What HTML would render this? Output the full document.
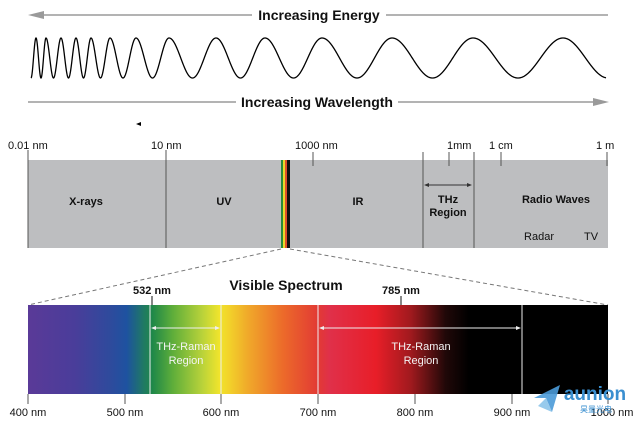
<!DOCTYPE html>
<html><head><meta charset="utf-8"><style>
html,body{margin:0;padding:0;background:#fff}
svg{display:block}
text{font-family:"Liberation Sans",Arial,sans-serif}
</style></head><body>
<svg width="640" height="424" viewBox="0 0 640 424" xmlns="http://www.w3.org/2000/svg">
<defs>
<linearGradient id="vis" x1="28" x2="608" gradientUnits="userSpaceOnUse">
<stop offset="0" stop-color="#5a3a98"/>
<stop offset="0.08" stop-color="#4a3d9a"/>
<stop offset="0.14" stop-color="#2f4a9c"/>
<stop offset="0.17" stop-color="#1e52a0"/>
<stop offset="0.2" stop-color="#1f7a62"/>
<stop offset="0.215" stop-color="#1f8848"/>
<stop offset="0.25" stop-color="#5fae3a"/>
<stop offset="0.3" stop-color="#b8d23a"/>
<stop offset="0.33" stop-color="#f0e42c"/>
<stop offset="0.345" stop-color="#f2d42a"/>
<stop offset="0.38" stop-color="#f0a82a"/>
<stop offset="0.44" stop-color="#ec6a2a"/>
<stop offset="0.5" stop-color="#e23a34"/>
<stop offset="0.52" stop-color="#e0304a"/>
<stop offset="0.6" stop-color="#e81e28"/>
<stop offset="0.66" stop-color="#a01a1e"/>
<stop offset="0.72" stop-color="#200808"/>
<stop offset="0.76" stop-color="#000"/>
<stop offset="1" stop-color="#000"/>
</linearGradient>
</defs>
<!-- top arrows -->
<g stroke="#9a9a9a" stroke-width="1.5" fill="#9a9a9a">
<line x1="36" y1="15" x2="252" y2="15"/><line x1="386" y1="15" x2="608" y2="15"/>
<polygon points="28,15 44,11 44,19" stroke="none"/>
<line x1="28" y1="102" x2="236" y2="102"/><line x1="398" y1="102" x2="600" y2="102"/>
<polygon points="609,102 593,98 593,106" stroke="none"/>
</g>
<text x="319" y="20" font-size="14" font-weight="bold" text-anchor="middle" fill="#111">Increasing Energy</text>
<text x="317" y="107" font-size="14" font-weight="bold" text-anchor="middle" fill="#111">Increasing Wavelength</text>
<path id="wave" fill="none" stroke="#000" stroke-width="1.3" d=""/>
<polygon points="136,124 141,122 141,126" fill="#000"/>
<!-- top bar -->
<rect x="28" y="160" width="580" height="88" fill="#bdbec0"/>
<g stroke="#555" stroke-width="1">
<line x1="28" y1="150" x2="28" y2="248"/>
<line x1="166" y1="150" x2="166" y2="248"/>
<line x1="313" y1="152" x2="313" y2="166"/>
<line x1="423" y1="152" x2="423" y2="248"/>
<line x1="449" y1="152" x2="449" y2="166"/>
<line x1="474" y1="152" x2="474" y2="248"/>
<line x1="501" y1="152" x2="501" y2="166"/>
<line x1="607" y1="152" x2="607" y2="166"/>
</g>
<rect x="281" y="160" width="2" height="88" fill="#2a8a3a"/>
<rect x="283" y="160" width="2" height="88" fill="#e8d82a"/>
<rect x="285" y="160" width="2" height="88" fill="#e0502a"/>
<rect x="287" y="160" width="3" height="88" fill="#111"/>
<g stroke="#333" stroke-width="1" fill="#333">
<line x1="426" y1="185" x2="470" y2="185"/>
<polygon points="424,185 429,183 429,187" stroke="none"/>
<polygon points="472,185 467,183 467,187" stroke="none"/>
</g>
<g font-size="11" fill="#111">
<text x="8" y="149">0.01 nm</text>
<text x="151" y="149">10 nm</text>
<text x="295" y="149">1000 nm</text>
<text x="447" y="149">1mm</text>
<text x="489" y="149">1 cm</text>
<text x="596" y="149">1 m</text>
</g>
<g font-size="11" font-weight="bold" fill="#111" text-anchor="middle">
<text x="86" y="205">X-rays</text>
<text x="224" y="205">UV</text>
<text x="358" y="205">IR</text>
<text x="448" y="203">THz</text>
<text x="448" y="216">Region</text>
<text x="556" y="203">Radio Waves</text>
</g>
<g font-size="11" fill="#111" text-anchor="middle">
<text x="539" y="240">Radar</text><text x="591" y="240">TV</text>
</g>
<g stroke="#777" stroke-width="1" stroke-dasharray="4,3">
<line x1="281" y1="249" x2="28" y2="305"/>
<line x1="290" y1="249" x2="608" y2="305"/>
</g>
<!-- visible bar -->
<text x="286" y="290" font-size="14" font-weight="bold" text-anchor="middle" fill="#111">Visible Spectrum</text>
<text x="152" y="294" font-size="11" font-weight="bold" text-anchor="middle" fill="#111">532 nm</text>
<text x="401" y="294" font-size="11" font-weight="bold" text-anchor="middle" fill="#111">785 nm</text>
<line x1="152" y1="296" x2="152" y2="306" stroke="#111"/>
<line x1="401" y1="296" x2="401" y2="306" stroke="#111"/>
<rect x="28" y="305" width="580" height="89" fill="url(#vis)"/>
<g stroke="#eee" stroke-width="1">
<line x1="150" y1="305" x2="150" y2="394"/>
<line x1="221" y1="305" x2="221" y2="394"/>
<line x1="318" y1="305" x2="318" y2="394"/>
<line x1="522" y1="305" x2="522" y2="394"/>
<line x1="153" y1="328" x2="218" y2="328"/>
<line x1="321" y1="328" x2="519" y2="328"/>
</g>
<g fill="#eee">
<polygon points="151,328 156,326 156,330"/><polygon points="220,328 215,326 215,330"/>
<polygon points="319,328 324,326 324,330"/><polygon points="521,328 516,326 516,330"/>
</g>
<g font-size="11" fill="#f4f4f4" text-anchor="middle">
<text x="186" y="350">THz-Raman</text><text x="186" y="364">Region</text>
<text x="421" y="350">THz-Raman</text><text x="421" y="364">Region</text>
</g>
<g stroke="#555">
<line x1="28" y1="394" x2="28" y2="404"/><line x1="125" y1="394" x2="125" y2="404"/>
<line x1="221" y1="394" x2="221" y2="404"/><line x1="318" y1="394" x2="318" y2="404"/>
<line x1="415" y1="394" x2="415" y2="404"/><line x1="512" y1="394" x2="512" y2="404"/>
<line x1="608" y1="394" x2="608" y2="404"/>
</g>
<g font-size="11" fill="#111" text-anchor="middle">
<text x="28" y="416">400 nm</text><text x="125" y="416">500 nm</text>
<text x="221" y="416">600 nm</text><text x="318" y="416">700 nm</text>
<text x="415" y="416">800 nm</text><text x="512" y="416">900 nm</text>
<text x="612" y="416">1000 nm</text>
</g>
<!-- watermark -->
<polygon points="534,398 560,385 552,412 546,398" fill="#4a9ad8" opacity="0.9"/>
<polygon points="546,398 552,412 538,406" fill="#8cc4ea" opacity="0.9"/>
<text x="595" y="400" font-size="19" font-weight="bold" fill="#3a8fd0" text-anchor="middle">aunion</text>
<text x="580" y="412" font-size="8" fill="#3a8fd0" font-family="'Liberation Sans','Noto Sans CJK SC',sans-serif">昊量光电</text>
</svg>
<script>
(function(){
var peaks=[36,46,61,76,91,110,136,169,216,265,322,392,473,563];
var pts=[[31,-Math.PI]];
peaks.forEach(function(p,i){pts.push([p,2*Math.PI*i]);});
pts.push([608,2*Math.PI*(peaks.length-1)+Math.PI]);
function ph(x){for(var i=0;i<pts.length-1;i++){if(x<=pts[i+1][0]){var a=pts[i],b=pts[i+1];return a[1]+(b[1]-a[1])*(x-a[0])/(b[0]-a[0]);}}return pts[pts.length-1][1];}
var d="";for(var x=31;x<=606;x+=0.25){var y=58-20*Math.cos(ph(x));d+=(x==31?"M":"L")+x.toFixed(2)+","+y.toFixed(2);}
document.getElementById("wave").setAttribute("d",d);
})();
</script>
</body></html>
